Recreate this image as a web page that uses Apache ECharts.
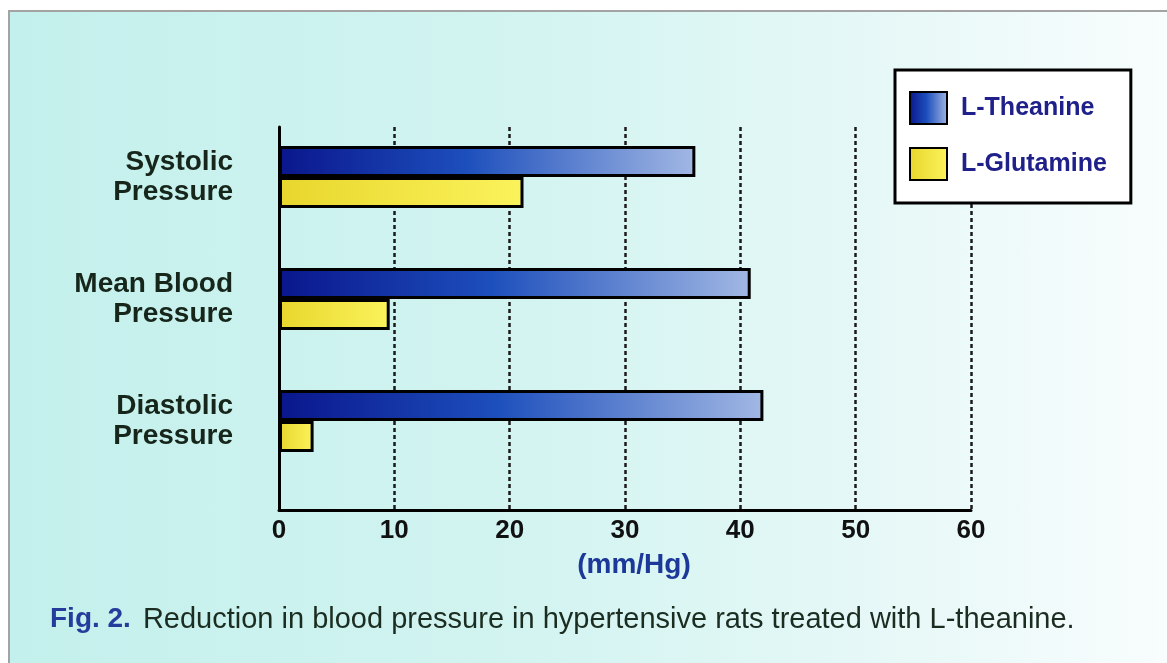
<!DOCTYPE html>
<html>
<head>
<meta charset="utf-8">
<script src="https://cdn.jsdelivr.net/npm/echarts@6/dist/echarts.min.js"></script>
<style>
  html, body { margin: 0; padding: 0; background: #fff; }
  #frame {
    position: absolute; left: 8px; top: 10px; width: 1159px; height: 653px;
    border-top: 2px solid #a3a3a3; border-left: 2px solid #a3a3a3;
    background: linear-gradient(to right, #c3f0ec 0%, #d3f4f1 45%, #e6f8f7 75%, #f8fdfd 100%);
  }
  #chart { position: absolute; left: 0; top: 0; width: 1167px; height: 663px; }
</style>
</head>
<body>
<div id="frame"></div>
<div id="chart"></div>
<script>
const categories = ["Systolic\nPressure", "Mean Blood\nPressure", "Diastolic\nPressure"];
const theanine = [36.1, 40.9, 42.0];
const glutamine = [21.2, 9.6, 3.0];
const xTicks = [0, 10, 20, 30, 40, 50, 60];
const seriesNames = ["L-Theanine", "L-Glutamine"];
const caption = "Reduction in blood pressure in hypertensive rats treated with L-theanine.";

const FONT = "'Liberation Sans', Arial, Helvetica, sans-serif";

const chart = echarts.init(document.getElementById("chart"), null, { renderer: "canvas" });

const blueGrad = new echarts.graphic.LinearGradient(0, 0, 1, 0, [
  { offset: 0, color: "#0a168c" },
  { offset: 0.45, color: "#1d4fbc" },
  { offset: 1, color: "#a2b8e4" },
]);
const yellowGrad = new echarts.graphic.LinearGradient(0, 0, 1, 0, [
  { offset: 0, color: "#e8d62c" },
  { offset: 1, color: "#fbf35c" },
]);

chart.setOption({
  animation: false,
  backgroundColor: "transparent",
  grid: [
    { left: 279, right: 196, top: 127, bottom: 153 },
    { left: 279, right: 196, top: 116, height: 366 },
  ],
  xAxis: [
    {
      gridIndex: 0, type: "value", min: xTicks[0], max: xTicks[xTicks.length - 1], interval: 10,
      axisLine: { show: true, lineStyle: { color: "#000", width: 3 } },
      axisTick: { show: false },
      axisLabel: { color: "#111", fontFamily: FONT, fontWeight: "bold", fontSize: 26, margin: 8 },
      splitLine: { show: true, lineStyle: { color: "#1a1a1a", width: 2.5, type: [4, 3] } },
      name: "(mm/Hg)", nameLocation: "middle", nameGap: 41,
      nameTextStyle: { color: "#1c3898", fontFamily: FONT, fontWeight: "bold", fontSize: 28, padding: [0, 0, 0, 18] },
    },
    {
      gridIndex: 1, type: "value", min: 0, max: 60, show: false,
    },
  ],
  yAxis: [
    {
      gridIndex: 0, type: "category", data: categories,
      axisLine: { show: true, lineStyle: { color: "#000", width: 3 } },
      axisTick: { show: false }, axisLabel: { show: false }, splitLine: { show: false },
    },
    {
      gridIndex: 1, type: "category", data: categories, inverse: true,
      axisLine: { show: false }, axisTick: { show: false },
      axisLabel: {
        color: "#17261b", fontFamily: FONT, fontWeight: "bold", fontSize: 28,
        lineHeight: 30, margin: 46, align: "right", padding: [0, 0, 26, 0],
      },
    },
  ],
  legend: {
    data: seriesNames,
    orient: "vertical",
    left: 895, top: 70,
    padding: [21, 24, 22, 14],
    icon: "rect",
    itemWidth: 37, itemHeight: 32, itemGap: 22,
    backgroundColor: "#ffffff",
    borderColor: "#000", borderWidth: 3,
    textStyle: { color: "#20208a", fontFamily: FONT, fontWeight: "bold", fontSize: 25, padding: [0, 0, 0, 9] },
  },
  series: [
    {
      name: seriesNames[0], type: "bar", xAxisIndex: 1, yAxisIndex: 1,
      data: theanine, barWidth: 31, barGap: "0%",
      itemStyle: { color: blueGrad, borderColor: "#000", borderWidth: 3 },
    },
    {
      name: seriesNames[1], type: "bar", xAxisIndex: 1, yAxisIndex: 1,
      data: glutamine, barWidth: 31, barGap: "0%",
      itemStyle: { color: yellowGrad, borderColor: "#000", borderWidth: 3 },
    },
  ],
  graphic: [
    {
      type: "text", left: 50, top: 605,
      style: {
        text: "{a|Fig. 2.}{b|" + caption + "}",
        rich: {
          a: { fontFamily: FONT, fontWeight: "bold", fontSize: 28, fill: "#253c9c" },
          b: { fontFamily: FONT, fontSize: 29, fill: "#1b2c20", padding: [0, 0, 0, 12] },
        },
      },
    },
  ],
});
</script>
</body>
</html>
